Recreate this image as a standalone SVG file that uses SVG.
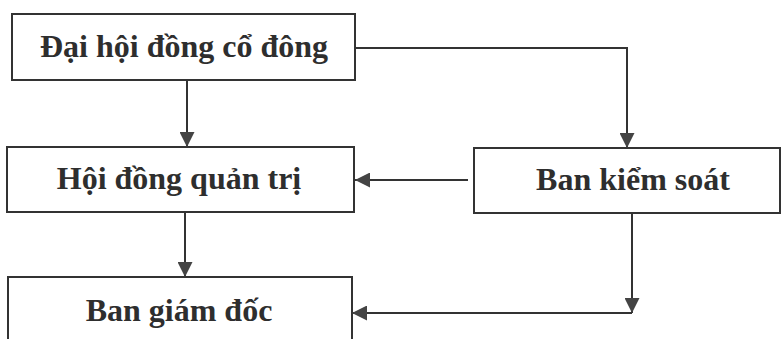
<svg xmlns="http://www.w3.org/2000/svg" width="782" height="339" viewBox="0 0 782 339">
  <style>
    .box { fill: #ffffff; stroke: #333333; stroke-width: 2; }
    .lbl { font-family: "Liberation Serif", "Times New Roman", serif; font-weight: bold; font-size: 32px; fill: #2e2e2e; text-anchor: middle; }
    .con { fill: none; stroke: #333333; stroke-width: 2; }
  </style>
  <defs>
    <marker id="arr" viewBox="0 0 15 15" refX="15" refY="7.5" markerWidth="15" markerHeight="15" markerUnits="userSpaceOnUse" orient="auto">
      <path d="M0,0 L15,7.5 L0,15 Z" fill="#444444"/>
    </marker>
  </defs>
  <rect width="782" height="339" fill="#ffffff"/>
  <g id="dhdcd">
    <rect class="box" x="12" y="14" width="343" height="66"/>
    <text class="lbl" x="184" y="57">Đại hội đồng cổ đông</text>
  </g>
  <g id="hdqt">
    <rect class="box" x="7" y="147" width="347" height="65"/>
    <text class="lbl" x="179" y="189">Hội đồng quản trị</text>
  </g>
  <g id="bks">
    <rect class="box" x="474" y="148" width="306" height="65"/>
    <text class="lbl" x="633" y="190">Ban kiểm soát</text>
  </g>
  <g id="bgd">
    <rect class="box" x="8" y="277" width="344" height="70"/>
    <text class="lbl" x="179" y="321">Ban giám đốc</text>
  </g>
  <g id="connectors">
    <path class="con" d="M187,80 L187,147" marker-end="url(#arr)"/>
    <path class="con" d="M185,212 L185,277" marker-end="url(#arr)"/>
    <path class="con" d="M355,48 L627,48 L627,148" marker-end="url(#arr)"/>
    <path class="con" d="M468,180 L355,180" marker-end="url(#arr)"/>
    <path class="con" d="M632,213 L632,313" marker-end="url(#arr)"/>
    <path class="con" d="M632,313 L352,313" marker-end="url(#arr)"/>
  </g>
</svg>
